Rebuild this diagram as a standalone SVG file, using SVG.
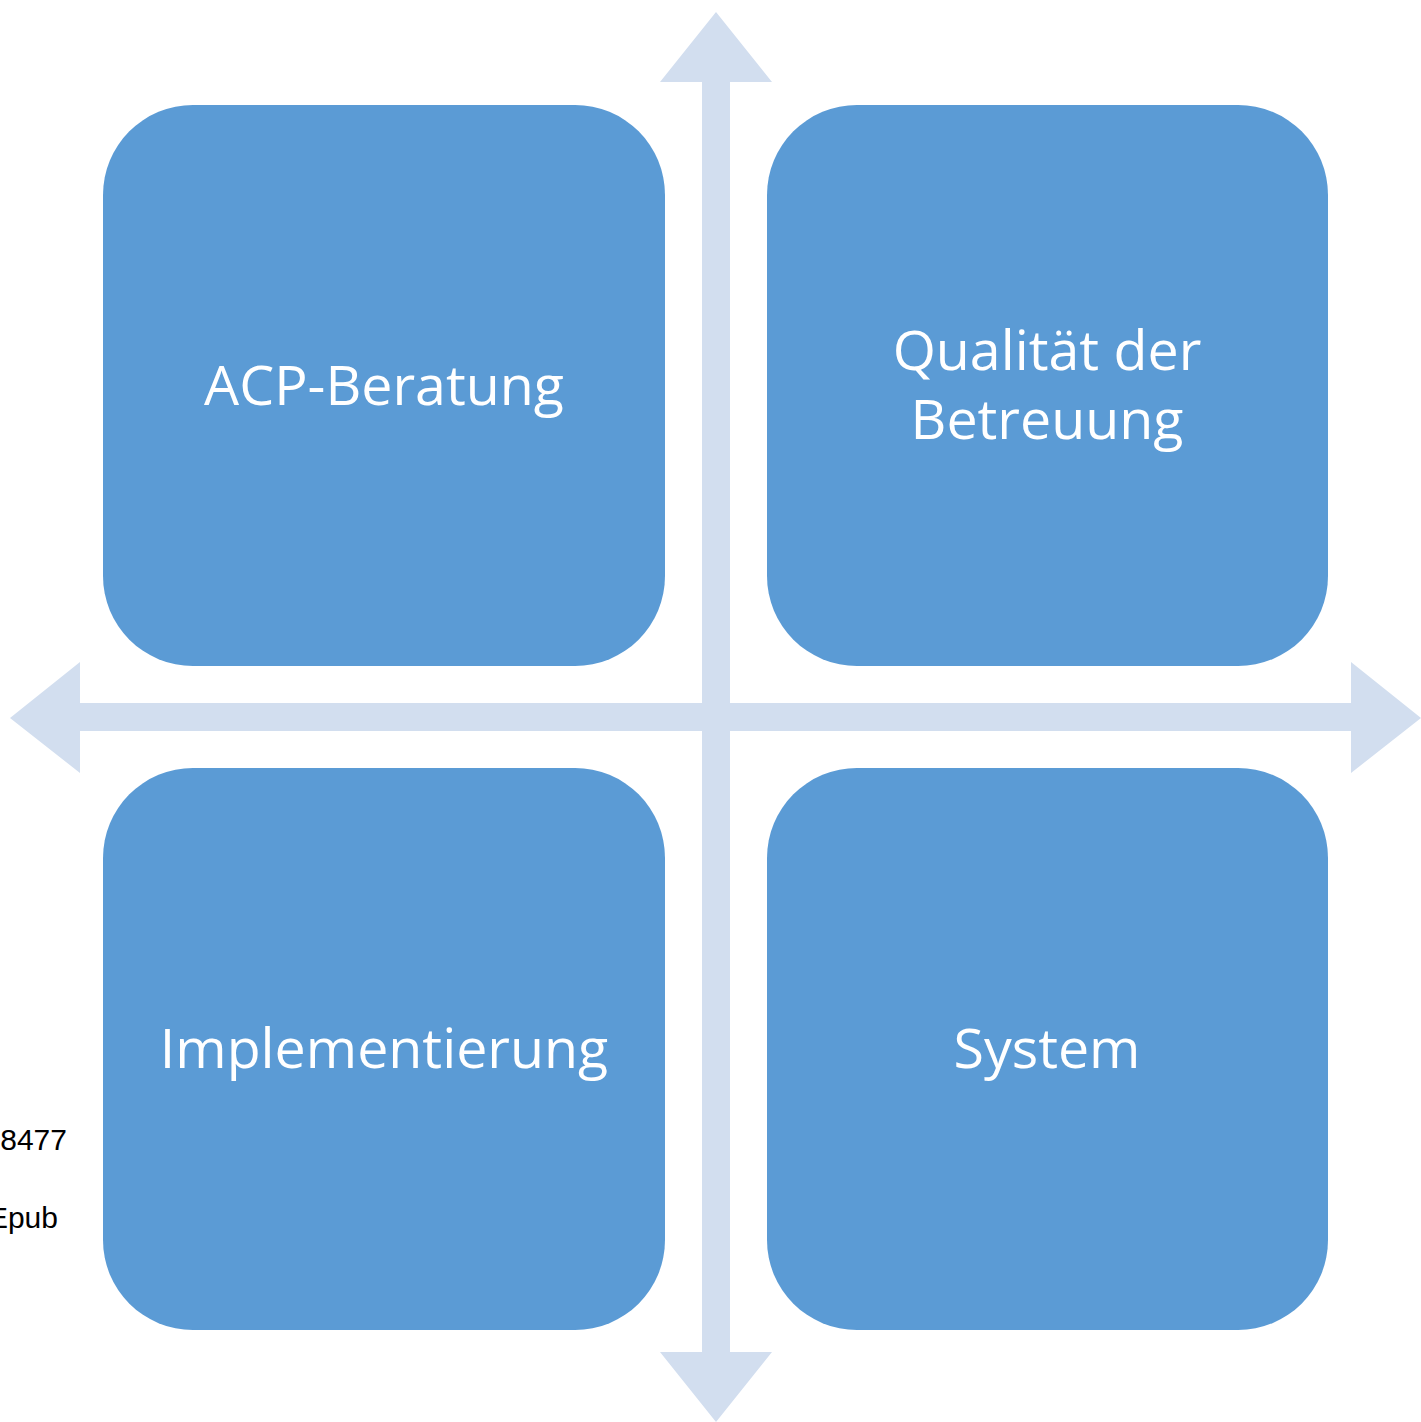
<svg xmlns="http://www.w3.org/2000/svg" width="1421" height="1422" viewBox="0 0 1421 1422">
  <style>
    .axis { fill: #D2DEEF; }
    .box { fill: #5B9BD5; }
    .label { fill: #FFFFFF; font-family: "Open Sans", "Lato", sans-serif; font-size: 55.5px; text-anchor: middle; }
    .side { fill: #000000; font-family: "Liberation Sans", Arial, sans-serif; font-size: 30px; text-anchor: end; }
  </style>
  <rect width="1421" height="1422" fill="#FFFFFF"/>

  <!-- double-headed axes -->
  <g id="connectors">
    <polygon class="axis" points="716,12 772,82 730,82 730,1352 772,1352 716,1422 660,1352 702,1352 702,82 660,82"/>
    <polygon class="axis" points="10,718 80,662 80,703 1351,703 1351,662 1421,718 1351,773 1351,731 80,731 80,773"/>
  </g>

  <g id="node-acp">
    <rect class="box" x="103" y="105" width="562" height="561" rx="90" ry="90"/>
    <text class="label" x="384" y="405">ACP-Beratung</text>
  </g>
  <g id="node-qualitaet">
    <rect class="box" x="767" y="105" width="561" height="561" rx="90" ry="90"/>
    <text class="label" x="1047" y="370">Qualität der</text>
    <text class="label" x="1047" y="439">Betreuung</text>
  </g>
  <g id="node-implementierung">
    <rect class="box" x="103" y="768" width="562" height="562" rx="90" ry="90"/>
    <text class="label" x="384" y="1068">Implementierung</text>
  </g>
  <g id="node-system">
    <rect class="box" x="767" y="768" width="561" height="562" rx="90" ry="90"/>
    <text class="label" x="1047" y="1068">System</text>
  </g>

  <text class="side" x="67" y="1150">8477</text>
  <text class="side" x="58" y="1228">Epub</text>
</svg>
